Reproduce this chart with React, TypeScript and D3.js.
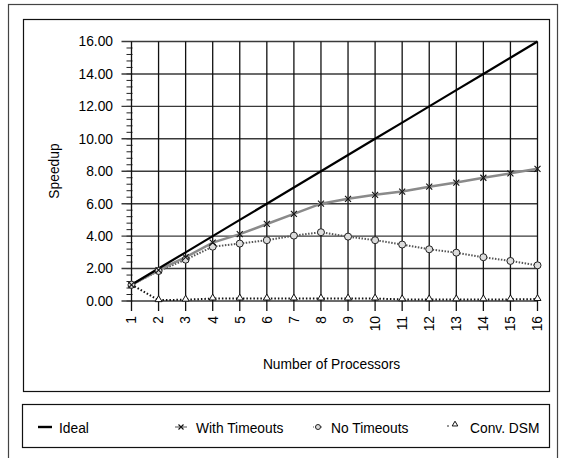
import React, { useEffect, useRef } from 'react';
import * as d3 from 'd3';

const processors = [1, 2, 3, 4, 5, 6, 7, 8, 9, 10, 11, 12, 13, 14, 15, 16];
const ideal = [1, 2, 3, 4, 5, 6, 7, 8, 9, 10, 11, 12, 13, 14, 15, 16];
const withTimeouts = [1.0, 1.9, 2.7, 3.6, 4.12, 4.75, 5.37, 6.0, 6.3, 6.55, 6.75, 7.05, 7.3, 7.6, 7.87, 8.15];
const noTimeouts = [1.0, 1.85, 2.55, 3.35, 3.54, 3.75, 4.03, 4.24, 3.97, 3.75, 3.48, 3.19, 2.98, 2.7, 2.47, 2.2];
const convDsm = [1.0, 0.05, 0.08, 0.15, 0.15, 0.15, 0.15, 0.15, 0.15, 0.15, 0.1, 0.1, 0.1, 0.1, 0.1, 0.12];
const yTicks = [0, 2, 4, 6, 8, 10, 12, 14, 16];
const legendLabels = ['Ideal', 'With Timeouts', 'No Timeouts', 'Conv. DSM'];

const W = 562, H = 458;
const font = 'Liberation Sans, Arial, Helvetica, sans-serif';
const fs = 13.8;

const draw = (node: SVGSVGElement) => {
  const svg = d3.select(node);
  svg.selectAll('*').remove();

  // frames
  svg.append('rect').attr('x', 8.5).attr('y', 4.5).attr('width', 549).attr('height', 470)
    .attr('fill', 'none').attr('stroke', '#444').attr('stroke-width', 1.2);
  svg.append('rect').attr('x', 23.5).attr('y', 19.5).attr('width', 526).attr('height', 372)
    .attr('fill', 'none').attr('stroke', '#111').attr('stroke-width', 1.2);
  svg.append('rect').attr('x', 22.5).attr('y', 404.5).attr('width', 527).attr('height', 43)
    .attr('fill', 'none').attr('stroke', '#111').attr('stroke-width', 1.2);

  const x = d3.scaleLinear().domain([1, 16]).range([131.5, 537.5]);
  const y = d3.scaleLinear().domain([0, 16]).range([301, 41.5]);

  const g = svg.append('g');

  // minor y ticks
  const minor = d3.range(0, 16.001, 0.4);
  g.selectAll('.minor').data(minor).enter().append('line')
    .attr('x1', x(1) - 5).attr('x2', x(1) + 1)
    .attr('y1', d => y(d)).attr('y2', d => y(d))
    .attr('stroke', '#222').attr('stroke-width', 1);

  // horizontal gridlines
  g.selectAll('.hgrid').data(yTicks).enter().append('line')
    .attr('x1', x(1) - 10).attr('x2', x(16))
    .attr('y1', d => y(d)).attr('y2', d => y(d))
    .attr('stroke', '#3a3a3a').attr('stroke-width', 1.4);

  // vertical gridlines
  g.selectAll('.vgrid').data(processors).enter().append('line')
    .attr('x1', d => x(d)).attr('x2', d => x(d))
    .attr('y1', y(16)).attr('y2', y(0) + 10)
    .attr('stroke', '#111').attr('stroke-width', 1.3);

  // y labels
  g.selectAll('.ylab').data(yTicks).enter().append('text')
    .attr('x', 113).attr('y', d => y(d)).attr('dy', '0.35em')
    .attr('text-anchor', 'end').attr('font-family', font).attr('font-size', fs)
    .text(d => d3.format('.2f')(d));

  // x labels (rotated)
  g.selectAll('.xlab').data(processors).enter().append('text')
    .attr('transform', d => `translate(${x(d)},${316}) rotate(-90)`)
    .attr('dy', '0.35em').attr('text-anchor', 'end')
    .attr('font-family', font).attr('font-size', fs)
    .text(d => String(d));

  svg.append('text').attr('x', 331.5).attr('y', 369).attr('text-anchor', 'middle')
    .attr('font-family', font).attr('font-size', fs).text('Number of Processors');
  svg.append('text').attr('transform', `translate(59,171) rotate(-90)`).attr('text-anchor', 'middle')
    .attr('font-family', font).attr('font-size', fs).text('Speedup');

  const line = (vals: number[]) => d3.line<number>().x((_, i) => x(processors[i])).y(d => y(d))(vals);

  // series lines
  g.append('path').attr('d', line(convDsm)).attr('fill', 'none')
    .attr('stroke', '#111').attr('stroke-width', 2).attr('stroke-dasharray', '1.5,2');
  g.append('path').attr('d', line(noTimeouts)).attr('fill', 'none')
    .attr('stroke', '#555').attr('stroke-width', 2).attr('stroke-dasharray', '1.5,1.5');
  g.append('path').attr('d', line(withTimeouts)).attr('fill', 'none')
    .attr('stroke', '#8a8a8a').attr('stroke-width', 2.5);
  g.append('path').attr('d', line(ideal)).attr('fill', 'none')
    .attr('stroke', '#000').attr('stroke-width', 2.2);

  // markers
  const cross = (sel: any, cx: number, cy: number, s = 3) => {
    sel.append('path').attr('d', `M${cx - s},${cy - s}L${cx + s},${cy + s}M${cx - s},${cy + s}L${cx + s},${cy - s}`)
      .attr('stroke', '#111').attr('stroke-width', 1.1);
  };
  const circle = (sel: any, cx: number, cy: number, r = 3.5) => {
    sel.append('circle').attr('cx', cx).attr('cy', cy).attr('r', r)
      .attr('fill', '#ddd').attr('stroke', '#222').attr('stroke-width', 1);
  };
  const tri = (sel: any, cx: number, cy: number, s = 3.5) => {
    sel.append('path').attr('d', `M${cx},${cy - s}L${cx + s},${cy + s * 0.7}L${cx - s},${cy + s * 0.7}Z`)
      .attr('fill', '#fff').attr('stroke', '#111').attr('stroke-width', 1);
  };
  convDsm.forEach((v, i) => tri(g, x(processors[i]), y(v) - 1));
  noTimeouts.forEach((v, i) => circle(g, x(processors[i]), y(v)));
  withTimeouts.forEach((v, i) => cross(g, x(processors[i]), y(v)));

  // legend
  const ly = 427;
  const lg = svg.append('g');
  lg.append('line').attr('x1', 38).attr('x2', 52).attr('y1', ly).attr('y2', ly)
    .attr('stroke', '#000').attr('stroke-width', 2.4);
  lg.append('line').attr('x1', 175).attr('x2', 187).attr('y1', ly).attr('y2', ly)
    .attr('stroke', '#8a8a8a').attr('stroke-width', 1.5);
  cross(lg, 181, ly, 2.5);
  lg.append('line').attr('x1', 313).attr('x2', 323).attr('y1', ly).attr('y2', ly)
    .attr('stroke', '#555').attr('stroke-width', 1).attr('stroke-dasharray', '1,1');
  circle(lg, 318, ly, 2.5);
  lg.append('circle').attr('cx', 448).attr('cy', ly - 1).attr('r', 0.8).attr('fill', '#111');
  tri(lg, 455, ly - 3, 2.8);
  const tx = [59, 196, 331, 470];
  lg.selectAll('.lt').data(legendLabels).enter().append('text')
    .attr('x', (_, i) => tx[i]).attr('y', ly + 1).attr('dy', '0.35em')
    .attr('font-family', font).attr('font-size', fs).text(d => d);
};

export default function App() {
  const ref = useRef<SVGSVGElement>(null);
  useEffect(() => {
    if (ref.current) draw(ref.current);
  }, []);
  return (
    <svg ref={ref} width={W} height={H}
      style={{ position: 'absolute', left: 0, top: 0, background: '#fff' }} />
  );
}
